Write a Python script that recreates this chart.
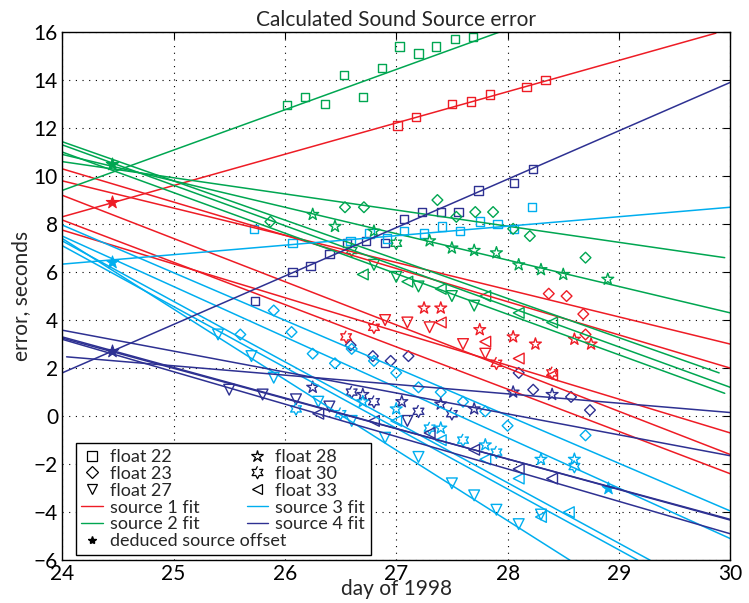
import numpy as np, pandas as pd, matplotlib
matplotlib.use("Agg")
import matplotlib.pyplot as plt, seaborn as sns
from matplotlib.lines import Line2D

sns.set_style("white")
plt.rcParams['font.family'] = ['Lato', 'DejaVu Sans']

C = {1: '#ee1c25', 2: '#00a651', 3: '#00aeef', 4: '#2e3192'}

# fit lines: (source, x0, y0, x1, y1)
fits = [
    (1, 24, 8.3, 29.87, 15.95), (1, 24, 10.3, 30, 2.0), (1, 24, 9.8, 30, 3.0),
    (1, 24, 8.17, 30, -2.4), (1, 24, 7.75, 30, -0.7), (1, 24, 9.2, 30, -1.6),
    (2, 24, 9.4, 27.93, 16.0), (2, 24, 10.6, 29.95, 6.6), (2, 24, 10.9, 30, 4.3),
    (2, 24, 11.43, 29.9, 1.8), (2, 24, 11.3, 30, 1.2), (2, 24, 11.0, 29.95, 0.95),
    (3, 24, 6.33, 30, 8.7), (3, 24, 7.96, 30, -3.95), (3, 24, 7.5, 30, -5.1),
    (3, 24, 7.3, 29.28, -6.0), (3, 24, 7.1, 29.17, -6.0), (3, 24, 7.4, 28.56, -6.0),
    (4, 24, 1.8, 30, 13.9), (4, 24.04, 2.47, 30, 0.15), (4, 24, 3.58, 30, -1.65),
    (4, 24, 3.3, 30, -4.33), (4, 24, 3.25, 30, -4.3), (4, 24, 3.2, 30, -4.9),
]

# float observations: (float, source) -> (xs, ys)
obs = {
    (22, 2): ([26.02, 26.18, 26.36, 26.53, 26.7, 26.87, 27.03, 27.2, 27.36, 27.53, 27.69],
              [12.96, 13.3, 13.0, 14.2, 13.3, 14.5, 15.4, 15.1, 15.4, 15.7, 15.8]),
    (22, 1): ([27.01, 27.18, 27.5, 27.67, 27.84, 28.17, 28.34],
              [12.1, 12.45, 13.0, 13.1, 13.4, 13.7, 14.0]),
    (22, 4): ([25.73, 26.07, 26.23, 26.4, 26.56, 26.73, 26.9, 27.07, 27.23, 27.4, 27.56, 27.74, 28.06, 28.23],
              [4.8, 6.0, 6.25, 6.75, 7.2, 7.3, 7.2, 8.2, 8.5, 8.5, 8.5, 9.4, 9.7, 10.3]),
    (22, 3): ([25.72, 26.07, 26.59, 26.76, 26.92, 27.07, 27.25, 27.41, 27.57, 27.75, 27.91, 28.06, 28.22],
              [7.8, 7.2, 7.3, 7.6, 7.4, 7.7, 7.6, 7.9, 7.7, 8.1, 8.0, 7.8, 8.7]),
    (23, 2): ([25.87, 26.54, 26.71, 27.37, 27.54, 27.71, 27.87, 28.05, 28.2, 28.7],
              [8.1, 8.7, 8.7, 9.0, 8.3, 8.5, 8.5, 7.8, 7.5, 6.6]),
    (23, 1): ([28.37, 28.53, 28.68, 28.7],
              [5.1, 5.0, 4.25, 3.4]),
    (23, 4): ([26.59, 26.79, 26.95, 27.11, 28.1, 28.23, 28.57, 28.74],
              [2.95, 2.5, 2.3, 2.5, 1.8, 1.1, 0.8, 0.25]),
    (23, 3): ([25.6, 25.9, 26.06, 26.25, 26.45, 26.6, 26.8, 27.0, 27.2, 27.4, 27.6, 27.8, 28.0, 28.7],
              [3.4, 4.4, 3.5, 2.6, 2.2, 2.8, 2.3, 1.8, 1.2, 1.0, 0.6, 0.2, -0.4, -0.8]),
    (27, 1): ([26.9, 27.1, 27.3, 27.6, 27.8],
              [4.0, 3.9, 3.7, 3.0, 2.6]),
    (27, 2): ([26.8, 27.0, 27.2, 27.5, 27.7],
              [6.3, 5.8, 5.4, 5.0, 4.6]),
    (27, 4): ([25.5, 25.8, 26.1, 26.4, 27.1],
              [1.1, 0.9, 0.7, 0.4, -0.2]),
    (27, 3): ([25.4, 25.7, 25.9, 26.3, 26.6, 26.9, 27.2, 27.5, 27.7, 27.9, 28.1, 28.3],
              [3.4, 2.5, 1.6, 0.6, -0.2, -0.9, -1.7, -2.8, -3.3, -3.9, -4.5, -4.1]),
    (28, 2): ([26.25, 26.45, 26.8, 27.3, 27.5, 27.7, 27.9, 28.1, 28.3, 28.5, 28.9],
              [8.4, 7.9, 7.7, 7.3, 7.0, 6.9, 6.8, 6.3, 6.1, 5.9, 5.7]),
    (28, 1): ([27.25, 27.4, 27.75, 28.05, 28.25, 28.6, 28.75],
              [4.5, 4.5, 3.6, 3.3, 3.0, 3.2, 3.0]),
    (28, 4): ([26.25, 26.7, 27.05, 27.4, 27.7, 28.05, 28.4],
              [1.2, 0.9, 0.6, 0.5, 0.3, 1.0, 0.9]),
    (28, 3): ([26.7, 27.0, 27.4, 27.8, 28.3, 28.6],
              [0.6, 0.3, -0.5, -1.2, -1.8, -1.8]),
    (30, 1): ([26.55, 26.8, 27.9, 28.4],
              [3.3, 3.7, 2.2, 1.8]),
    (30, 2): ([26.6, 27.0],
              [6.9, 7.2]),
    (30, 4): ([26.6, 26.8, 27.2, 27.5],
              [1.0, 0.6, 0.2, 0.1]),
    (30, 3): ([26.1, 26.5, 27.3, 27.6, 27.9, 28.6],
              [0.3, 0.1, -0.5, -1.0, -1.5, -2.1]),
    (33, 2): ([26.7, 27.1, 27.4, 27.8, 28.1, 28.4],
              [5.9, 5.6, 5.3, 5.0, 4.3, 3.9]),
    (33, 1): ([27.4, 27.8, 28.1, 28.4],
              [3.9, 3.1, 2.4, 1.7]),
    (33, 4): ([26.3, 26.8, 27.3, 27.7, 28.1, 28.4],
              [0.1, -0.2, -0.7, -1.4, -2.2, -2.6]),
    (33, 3): ([27.0, 27.4, 27.8, 28.1, 28.3, 28.55],
              [-0.2, -1.0, -1.8, -2.6, -4.2, -4.0]),
}

# deduced source offsets
ded_src = [1, 2, 3, 4, 3]
ded_x = [24.45, 24.45, 24.45, 24.45, 28.9]
ded_y = [8.9, 10.5, 6.4, 2.7, -3.0]

# six-pointed open star marker
ang = np.deg2rad(np.arange(12) * 30 + 90)
rad = np.where(np.arange(12) % 2 == 0, 1.0, 0.55)
hexa = list(zip(rad * np.cos(ang), rad * np.sin(ang)))
MK = {22: 's', 23: 'D', 27: 'v', 28: '*', 30: hexa, 33: '<'}
MS = {22: 36, 23: 30, 27: 60, 28: 80, 30: 80, 33: 60}

fig = plt.figure(figsize=(7.49, 6.03), dpi=100)
ax = fig.add_axes([0.083, 0.071, 0.892, 0.876])

rows = []
for i, (s, x0, y0, x1, y1) in enumerate(fits):
    rows += [dict(id=i, src=s, x=x0, y=y0), dict(id=i, src=s, x=x1, y=y1)]
ldf = pd.DataFrame(rows)
sns.lineplot(data=ldf, x='x', y='y', hue='src', units='id', estimator=None,
             palette=C, lw=1.1, legend=False, ax=ax)

for (f, s), (xs, ys) in obs.items():
    d = pd.DataFrame({'x': xs, 'y': ys})
    sns.scatterplot(data=d, x='x', y='y', marker=MK[f], s=MS[f],
                    facecolors='none', edgecolor=C[s], linewidth=1.0, ax=ax, legend=False)

for s, x, y in zip(ded_src, ded_x, ded_y):
    sns.scatterplot(x=[x], y=[y], marker='*', s=90, color=C[s], edgecolor=C[s], ax=ax, legend=False)

ax.set_xlim(24, 30)
ax.set_ylim(-6, 16)
ax.set_xticks(range(24, 31))
ax.set_yticks(range(-6, 17, 2))
ax.grid(True, color='black', linestyle=(0, (1, 5)), linewidth=0.8)
for sp in ax.spines.values():
    sp.set_color('black'); sp.set_linewidth(1.0)
ax.tick_params(direction='in', length=5, labelsize=15, colors='black', top=True, right=True, pad=3)
ax.set_xlabel('day of 1998', fontsize=15, labelpad=-4)
ax.set_ylabel('error, seconds', fontsize=15, labelpad=2)
ax.set_title('Calculated Sound Source error', fontsize=15, pad=4)

def mk(m, ms=7):
    return Line2D([], [], ls='none', marker=m, markersize=ms, mfc='none', mec='black', mew=0.9)
handles = [mk('s'), mk('D', 6), mk('v'),
           Line2D([], [], color=C[1], lw=1), Line2D([], [], color=C[2], lw=1),
           Line2D([], [], ls='none', marker='*', color='black', markersize=6),
           mk('*', 9), mk(hexa, 9), mk('<'),
           Line2D([], [], color=C[3], lw=1), Line2D([], [], color=C[4], lw=1)]
labels = ['float 22', 'float 23', 'float 27', 'source 1 fit', 'source 2 fit', 'deduced source offset',
          'float 28', 'float 30', 'float 33', 'source 3 fit', 'source 4 fit']
leg = ax.legend(handles, labels, ncol=2, loc='lower left', bbox_to_anchor=(0.012, 0.0),
                fontsize=13, frameon=True, fancybox=False, edgecolor='black', framealpha=1,
                handlelength=1.2, handletextpad=0.4, columnspacing=-2.2, labelspacing=0.05,
                borderpad=0.3, borderaxespad=0.3)
leg.get_frame().set_linewidth(1.0)

fig.savefig('out.png', dpi=100)
